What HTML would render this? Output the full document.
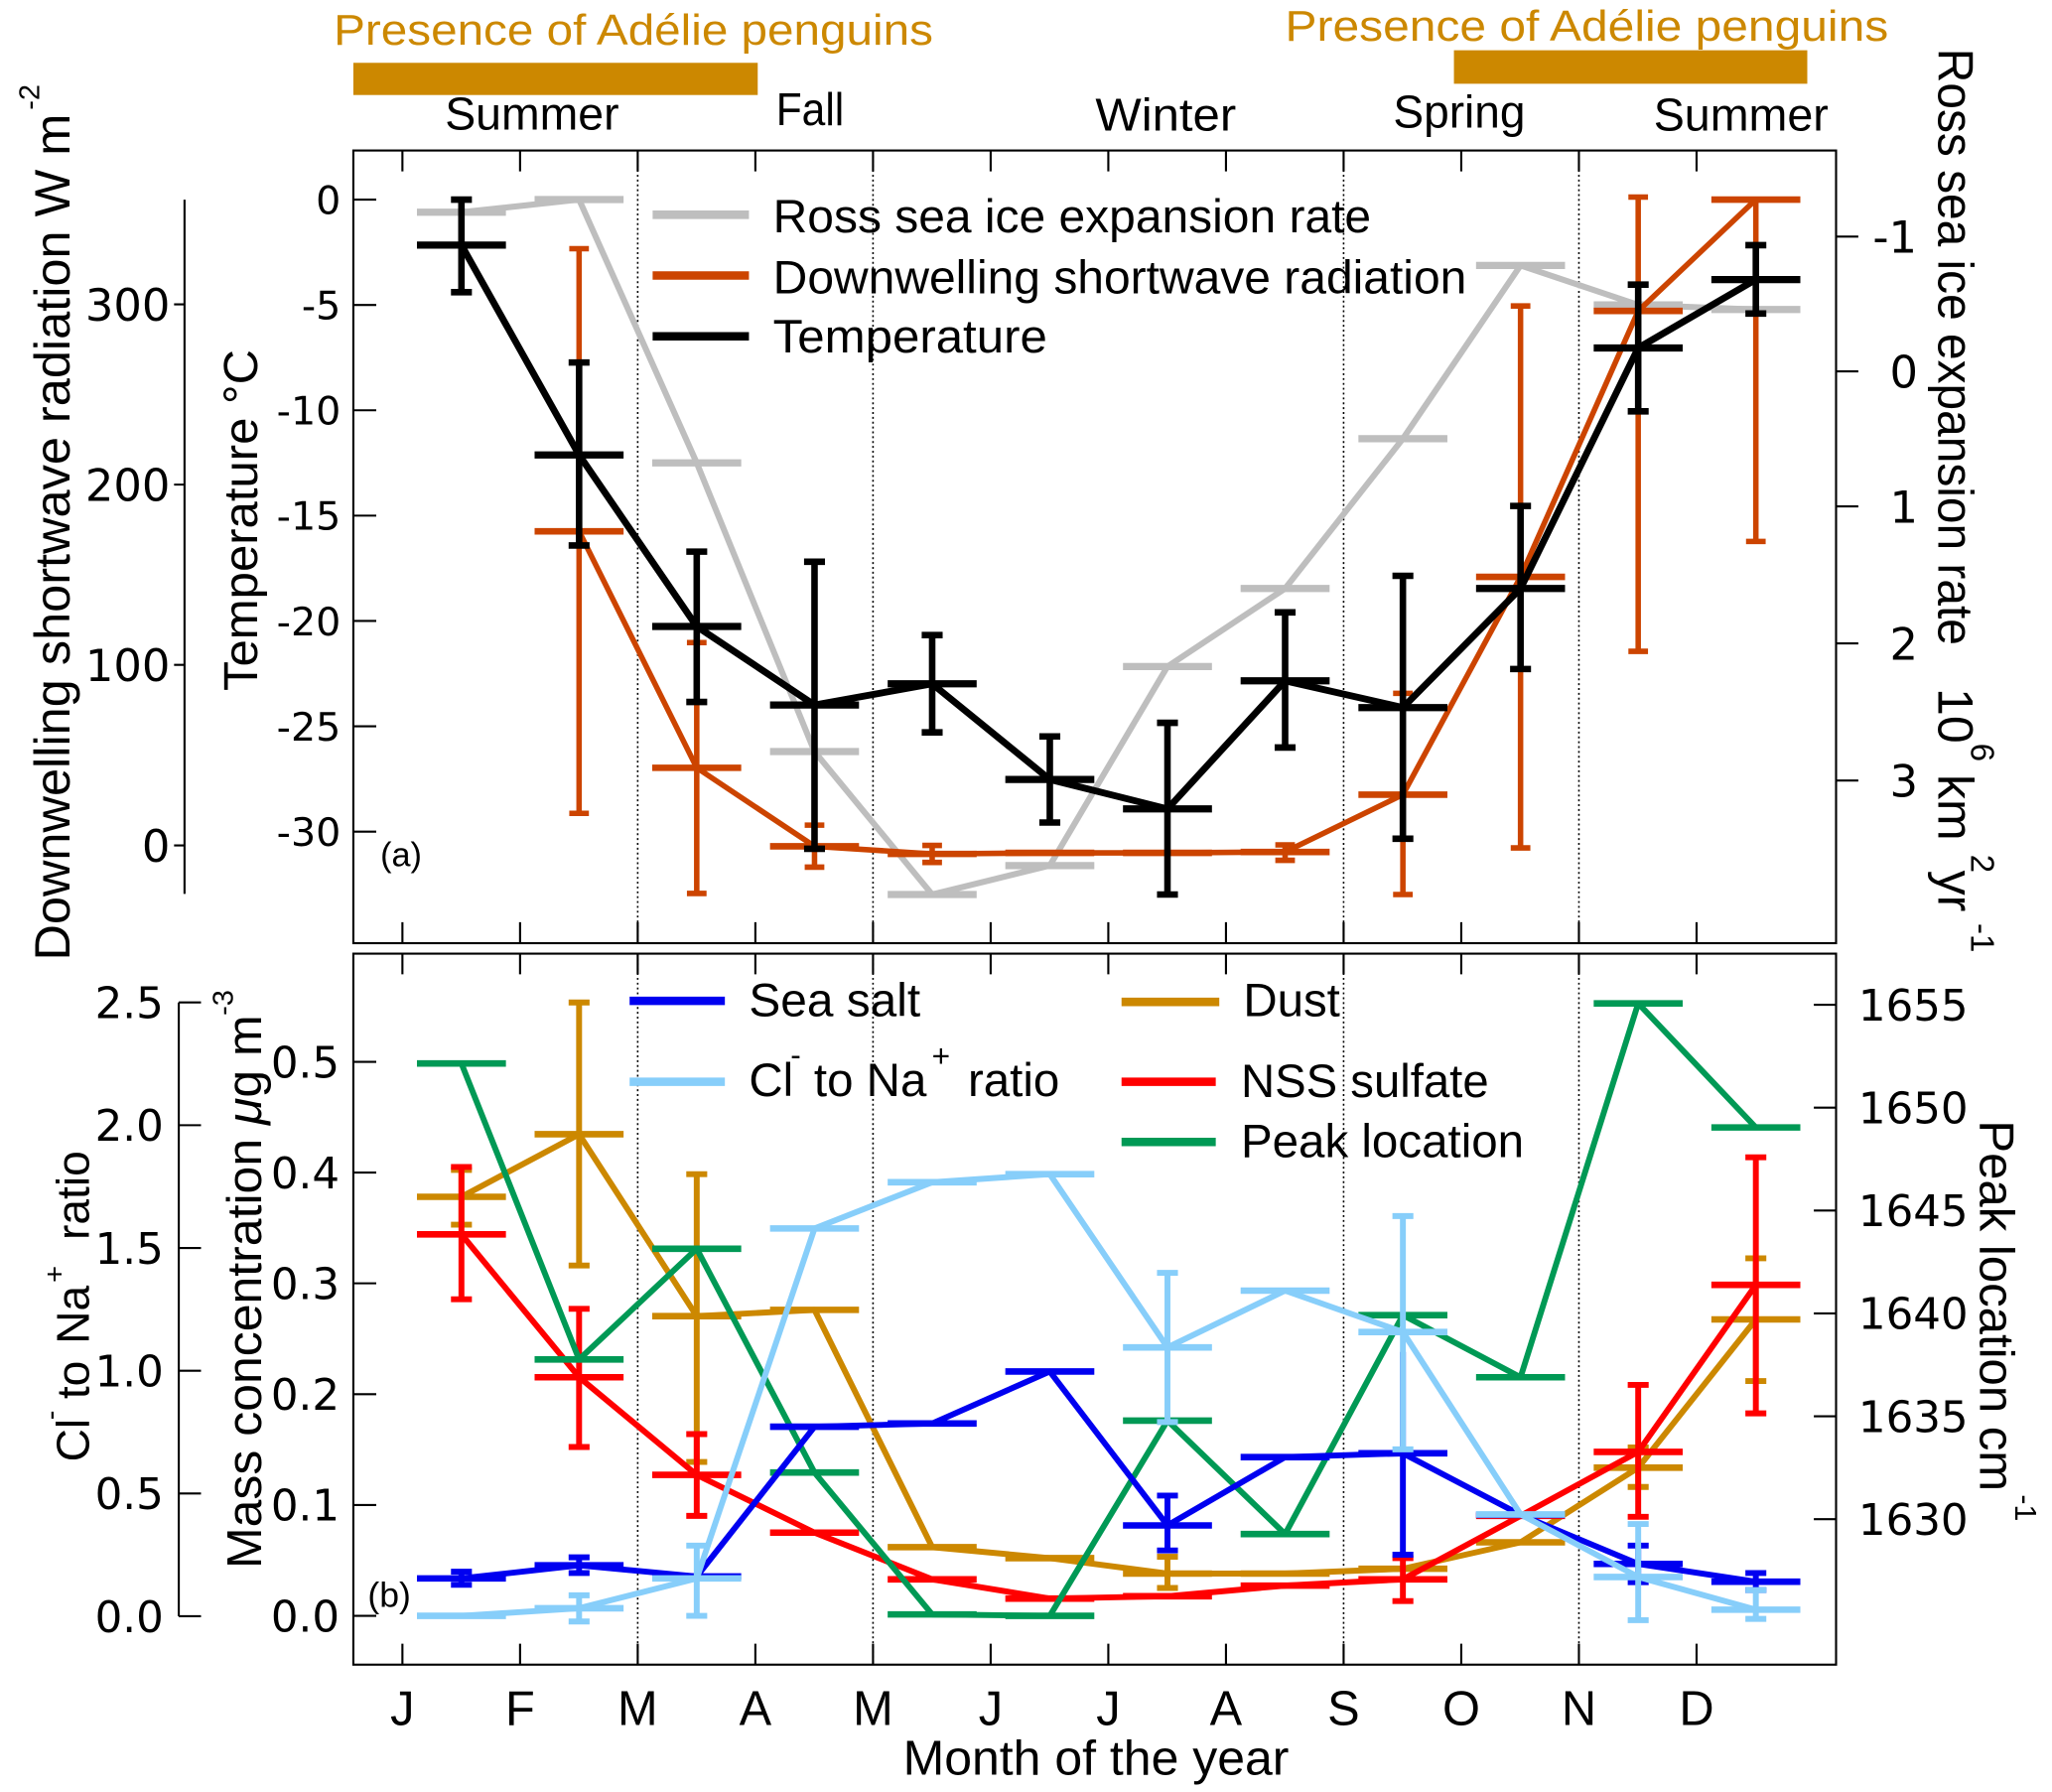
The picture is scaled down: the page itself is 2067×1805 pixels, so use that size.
<!DOCTYPE html>
<html>
<head>
<meta charset="utf-8">
<style>
html,body{margin:0;padding:0;background:#fff;}
svg{display:block;}
text{font-family:"Liberation Sans",Arial,sans-serif;fill:#000;}
.tk{font-family:"DejaVu Sans","Liberation Sans",sans-serif;}
</style>
</head>
<body>
<svg xmlns="http://www.w3.org/2000/svg" width="2067" height="1805" viewBox="0 0 1568 1369.3" preserveAspectRatio="none">
<rect x="0" y="0" width="1568" height="1369.3" fill="#fff"/>

<!-- Penguin presence -->
<text x="255" y="34" font-size="33" fill="#CC8800" style="fill:#CC8800" textLength="458" lengthAdjust="spacingAndGlyphs">Presence of Adélie penguins</text>
<text x="982" y="31" font-size="33" fill="#CC8800" style="fill:#CC8800" textLength="461" lengthAdjust="spacingAndGlyphs">Presence of Adélie penguins</text>
<rect x="270" y="48" width="309" height="24.6" fill="#CC8800"/>
<rect x="1111" y="38.4" width="270" height="25.6" fill="#CC8800"/>

<!-- Seasons -->
<text x="340" y="99" font-size="35" textLength="133" lengthAdjust="spacingAndGlyphs">Summer</text>
<text x="593" y="95.6" font-size="35" textLength="52" lengthAdjust="spacingAndGlyphs">Fall</text>
<text x="837" y="99.9" font-size="35" textLength="107.6" lengthAdjust="spacingAndGlyphs">Winter</text>
<text x="1064.6" y="97.4" font-size="35" textLength="101" lengthAdjust="spacingAndGlyphs">Spring</text>
<text x="1263.6" y="99.9" font-size="35" textLength="133.6" lengthAdjust="spacingAndGlyphs">Summer</text>

<!-- Frames -->
<rect x="270" y="115" width="1133" height="605.7" fill="none" stroke="#000" stroke-width="1.6"/>
<rect x="270" y="728.7" width="1133" height="543.3" fill="none" stroke="#000" stroke-width="1.6"/>

<!-- Dotted month dividers -->
<path d="M487.3,115V720.7 M667.1,115V720.7 M1026.7,115V720.7 M1206.5,115V720.7 M487.3,728.7V1272 M667.1,728.7V1272 M1026.7,728.7V1272 M1206.5,728.7V1272" stroke="#000" stroke-width="1.2" stroke-dasharray="1.5,2.2" fill="none"/>

<!-- Month ticks -->
<path d="M307.5,115V131 M397.4,115V131 M487.3,115V131 M577.2,115V131 M667.1,115V131 M757,115V131 M846.9,115V131 M936.8,115V131 M1026.7,115V131 M1116.6,115V131 M1206.5,115V131 M1296.4,115V131
M307.5,720.7V704.7 M397.4,720.7V704.7 M487.3,720.7V704.7 M577.2,720.7V704.7 M667.1,720.7V704.7 M757,720.7V704.7 M846.9,720.7V704.7 M936.8,720.7V704.7 M1026.7,720.7V704.7 M1116.6,720.7V704.7 M1206.5,720.7V704.7 M1296.4,720.7V704.7
M307.5,728.7V744.5 M397.4,728.7V744.5 M487.3,728.7V744.5 M577.2,728.7V744.5 M667.1,728.7V744.5 M757,728.7V744.5 M846.9,728.7V744.5 M936.8,728.7V744.5 M1026.7,728.7V744.5 M1116.6,728.7V744.5 M1206.5,728.7V744.5 M1296.4,728.7V744.5
M307.5,1272V1256 M397.4,1272V1256 M487.3,1272V1256 M577.2,1272V1256 M667.1,1272V1256 M757,1272V1256 M846.9,1272V1256 M936.8,1272V1256 M1026.7,1272V1256 M1116.6,1272V1256 M1206.5,1272V1256 M1296.4,1272V1256" stroke="#000" stroke-width="1.6" fill="none"/>

<!-- Y-axis ticks -->
<path d="M270,152.5h17.5 M270,233h17.5 M270,313.5h17.5 M270,394h17.5 M270,474.5h17.5 M270,555h17.5 M270,635.5h17.5
M1403,180.8h17 M1403,283.8h17 M1403,386.9h17 M1403,491.6h17 M1403,596.4h17
M270,811.4h17.5 M270,896h17.5 M270,980.6h17.5 M270,1065.3h17.5 M270,1150h17.5 M270,1234.7h17.5
M1403,767.8h-17 M1403,846.4h-17 M1403,925h-17 M1403,1003.6h-17 M1403,1082.2h-17 M1403,1160.8h-17
M141,152.6V683 M141,232.6h-8 M141,370.3h-8 M141,508h-8 M141,646h-8
M136.6,766V1235 M136.6,766h17 M136.6,859.8h17 M136.6,953.6h17 M136.6,1047.4h17 M136.6,1141.2h17 M136.6,1235h17" stroke="#000" stroke-width="1.6" fill="none"/>

<!-- Tick labels -->
<g class="tk" font-size="30" text-anchor="end">
<text class="tk" x="260.4" y="163.4">0</text>
<text class="tk" x="260.4" y="243.9">-5</text>
<text class="tk" x="260.4" y="324.4">-10</text>
<text class="tk" x="260.4" y="404.9">-15</text>
<text class="tk" x="260.4" y="485.4">-20</text>
<text class="tk" x="260.4" y="565.9">-25</text>
<text class="tk" x="260.4" y="646.4">-30</text>
</g>
<g font-size="34" text-anchor="end">
<text class="tk" x="130" y="245">300</text>
<text class="tk" x="130" y="382.7">200</text>
<text class="tk" x="130" y="520.4">100</text>
<text class="tk" x="130" y="658.4">0</text>
</g>
<g font-size="34">
<text class="tk" x="1431" y="193.2">-1</text>
<text class="tk" x="1444" y="296.2">0</text>
<text class="tk" x="1444" y="399.3">1</text>
<text class="tk" x="1444" y="504">2</text>
<text class="tk" x="1444" y="608.8">3</text>
</g>
<g font-size="33">
<text class="tk" x="1420" y="779.8">1655</text>
<text class="tk" x="1420" y="858.4">1650</text>
<text class="tk" x="1420" y="937">1645</text>
<text class="tk" x="1420" y="1015.6">1640</text>
<text class="tk" x="1420" y="1094.2">1635</text>
<text class="tk" x="1420" y="1172.8">1630</text>
</g>
<g font-size="33" text-anchor="end">
<text class="tk" x="125" y="778">2.5</text>
<text class="tk" x="125" y="871.8">2.0</text>
<text class="tk" x="125" y="965.6">1.5</text>
<text class="tk" x="125" y="1059.4">1.0</text>
<text class="tk" x="125" y="1153.2">0.5</text>
<text class="tk" x="125" y="1247">0.0</text>
<text class="tk" x="259.5" y="823.4">0.5</text>
<text class="tk" x="259.5" y="908">0.4</text>
<text class="tk" x="259.5" y="992.6">0.3</text>
<text class="tk" x="259.5" y="1077.3">0.2</text>
<text class="tk" x="259.5" y="1162">0.1</text>
<text class="tk" x="259.5" y="1246.7">0.0</text>
</g>

<!-- Month labels -->
<g font-size="37" text-anchor="middle">
<text x="307.5" y="1318">J</text>
<text x="397.4" y="1318">F</text>
<text x="487.3" y="1318">M</text>
<text x="577.2" y="1318">A</text>
<text x="667.1" y="1318">M</text>
<text x="757" y="1318">J</text>
<text x="846.9" y="1318">J</text>
<text x="936.8" y="1318">A</text>
<text x="1026.7" y="1318">S</text>
<text x="1116.6" y="1318">O</text>
<text x="1206.5" y="1318">N</text>
<text x="1296.4" y="1318">D</text>
</g>
<text x="690" y="1356" font-size="37" textLength="295" lengthAdjust="spacingAndGlyphs">Month of the year</text>

<!-- Axis titles -->
<text transform="translate(53,734) rotate(-90)" font-size="38" textLength="647" lengthAdjust="spacingAndGlyphs">Downwelling shortwave radiation W m</text>
<text transform="translate(30,84) rotate(-90)" font-size="22">-2</text>
<text transform="translate(196.5,528) rotate(-90)" font-size="36.5" textLength="261" lengthAdjust="spacingAndGlyphs">Temperature °C</text>

<text transform="translate(68,1117) rotate(-90)" font-size="35"><tspan x="0" y="0">Cl</tspan><tspan x="32" y="-22" font-size="22">-</tspan><tspan x="48" y="0">to</tspan><tspan x="90" y="0">Na</tspan><tspan x="137" y="-19" font-size="22">+</tspan><tspan x="169.5" y="0">ratio</tspan></text>
<text transform="translate(199.6,1198.6) rotate(-90)" font-size="37.5" textLength="423" lengthAdjust="spacingAndGlyphs">Mass concentration <tspan font-style="italic">μ</tspan>g m</text>
<text transform="translate(178,776) rotate(-90)" font-size="22">-3</text>

<text transform="translate(1481,37) rotate(90)" font-size="38" textLength="456" lengthAdjust="spacingAndGlyphs">Ross sea ice expansion rate</text>
<text transform="translate(1481,525.7) rotate(90)" font-size="38">10</text>
<text transform="translate(1506,568) rotate(90)" font-size="25">6</text>
<text transform="translate(1481,591.7) rotate(90)" font-size="38">km</text>
<text transform="translate(1506,653) rotate(90)" font-size="25">2</text>
<text transform="translate(1481,665) rotate(90)" font-size="38">yr</text>
<text transform="translate(1506,705.5) rotate(90)" font-size="25">-1</text>

<text transform="translate(1513,856) rotate(90)" font-size="37" textLength="283.6" lengthAdjust="spacingAndGlyphs">Peak location cm</text>
<text transform="translate(1540,1142) rotate(90)" font-size="23">-1</text>

<!-- Panel labels -->
<text x="290.6" y="662" font-size="26">(a)</text>
<text x="281" y="1228" font-size="27">(b)</text>

<!-- ===== Top panel data ===== -->
<g fill="none" stroke-linejoin="round">
<polyline points="352.6,162.2 442.5,152.5 532.4,353.7 622.4,574.3 712.3,683.5 802.2,661.4 892.1,509.3 982,449.7 1072,335.2 1161.9,202.8 1251.8,233 1341.7,236.5" stroke="#BEBEBE" stroke-width="4.6"/>
<path d="M318.6,162.2h68 M408.5,152.5h68 M498.4,353.7h68 M588.4,574.3h68 M678.3,683.5h68 M768.2,661.4h68 M858.1,509.3h68 M948,449.7h68 M1038,335.2h68 M1127.9,202.8h68 M1217.8,233h68 M1307.7,236.5h68" stroke="#BEBEBE" stroke-width="5.5"/>

<polyline points="442.5,406 532.4,586.7 622.4,646.7 712.3,652.5 802.2,651.7 892.1,651.7 982,651 1072,607.2 1161.9,440.8 1251.8,237.6 1341.7,152.5" stroke="#CC4400" stroke-width="4.2"/>
<path d="M408.5,406h68 M498.4,586.7h68 M588.4,646.7h68 M678.3,652.5h68 M768.2,651.7h68 M858.1,651.7h68 M948,651h68 M1038,607.2h68 M1127.9,440.8h68 M1217.8,237.6h68 M1307.7,152.5h68" stroke="#CC4400" stroke-width="5"/>
<path d="M442.5,190V621.5 M532.4,491V682.7 M622.4,630.5V662.6 M712.3,646V659 M982,645.6V657.4 M1072,529.8V683.5 M1161.9,233.8V647.9 M1251.8,150.6V497.7 M1341.7,152.5V413.7
M435,190h15 M435,621.5h15 M524.9,491h15 M524.9,682.7h15 M614.9,630.5h15 M614.9,662.6h15 M704.8,646h15 M704.8,659h15 M974.5,645.6h15 M974.5,657.4h15 M1064.5,529.8h15 M1064.5,683.5h15 M1154.4,233.8h15 M1154.4,647.9h15 M1244.3,150.6h15 M1244.3,497.7h15 M1334.2,152.5h15 M1334.2,413.7h15" stroke="#CC4400" stroke-width="4.2"/>

<polyline points="352.6,187.3 442.5,347.6 532.4,478.7 622.4,538.7 712.3,522.5 802.2,595.6 892.1,618.1 982,520.2 1072,540.7 1161.9,449.7 1251.8,265.9 1341.7,213.6" stroke="#000" stroke-width="5.2"/>
<path d="M318.6,187.3h68 M408.5,347.6h68 M498.4,478.7h68 M588.4,538.7h68 M678.3,522.5h68 M768.2,595.6h68 M858.1,618.1h68 M948,520.2h68 M1038,540.7h68 M1127.9,449.7h68 M1217.8,265.9h68 M1307.7,213.6h68" stroke="#000" stroke-width="5.5"/>
<path d="M352.6,152.5V223.3 M442.5,277V416.8 M532.4,421.5V536.4 M622.4,429.2V648.6 M712.3,485.3V559.6 M802.2,562.7V628.5 M892.1,552.3V683.5 M982,467.9V571.2 M1072,440V640.9 M1161.9,386.6V511.2 M1251.8,217.5V314.3 M1341.7,187.3V239.6
M344.6,152.5h16 M344.6,223.3h16 M434.5,277h16 M434.5,416.8h16 M524.4,421.5h16 M524.4,536.4h16 M614.4,429.2h16 M614.4,648.6h16 M704.3,485.3h16 M704.3,559.6h16 M794.2,562.7h16 M794.2,628.5h16 M884.1,552.3h16 M884.1,683.5h16 M974,467.9h16 M974,571.2h16 M1064,440h16 M1064,640.9h16 M1153.9,386.6h16 M1153.9,511.2h16 M1243.8,217.5h16 M1243.8,314.3h16 M1333.7,187.3h16 M1333.7,239.6h16" stroke="#000" stroke-width="5"/>
</g>

<!-- Top legend -->
<path d="M498.7,164.1H572.3" stroke="#BEBEBE" stroke-width="6.5"/>
<path d="M498.7,210.5H572.3" stroke="#CC4400" stroke-width="6.5"/>
<path d="M498.7,257H572.3" stroke="#000" stroke-width="6.5"/>
<text x="590.7" y="177.7" font-size="36" textLength="457" lengthAdjust="spacingAndGlyphs">Ross sea ice expansion rate</text>
<text x="590.7" y="224.1" font-size="36" textLength="530" lengthAdjust="spacingAndGlyphs">Downwelling shortwave radiation</text>
<text x="590.7" y="269.4" font-size="36" textLength="209.5" lengthAdjust="spacingAndGlyphs">Temperature</text>

<!-- ===== Bottom panel data ===== -->
<g fill="none" stroke-linejoin="round">
<polyline points="352.6,914.5 442.5,866.7 532.4,1005.7 622.4,1000.9 712.3,1182.2 802.2,1190.6 892.1,1202.4 982,1202.4 1072,1198.7 1161.9,1178.5 1251.8,1121.5 1341.7,1008.2" stroke="#CC8800" stroke-width="4.5"/>
<path d="M318.6,914.5h68 M408.5,866.7h68 M498.4,1005.7h68 M588.4,1000.9h68 M678.3,1182.2h68 M768.2,1190.6h68 M858.1,1202.4h68 M948,1202.4h68 M1038,1198.7h68 M1127.9,1178.5h68 M1217.8,1121.5h68 M1307.7,1008.2h68" stroke="#CC8800" stroke-width="5"/>
<path d="M352.6,894V935.8 M442.5,766V967 M532.4,897.2V1117.1 M892.1,1189.5V1213.4 M1251.8,1106V1136.2 M1341.7,961.5V1055.3
M344.6,894h16 M344.6,935.8h16 M434.5,766h16 M434.5,967h16 M524.4,897.2h16 M524.4,1117.1h16 M884.1,1189.5h16 M884.1,1213.4h16 M1243.8,1106h16 M1243.8,1136.2h16 M1333.7,961.5h16 M1333.7,1055.3h16" stroke="#CC8800" stroke-width="4.5"/>

<polyline points="352.6,943.2 442.5,1052.4 532.4,1127 622.4,1171.1 712.3,1206.8 802.2,1221.5 892.1,1219.7 982,1211.6 1072,1206.8 1161.9,1158.3 1251.8,1109.4 1341.7,981.8" stroke="#FF0000" stroke-width="4.5"/>
<path d="M318.6,943.2h68 M408.5,1052.4h68 M498.4,1127h68 M588.4,1171.1h68 M678.3,1206.8h68 M768.2,1221.5h68 M858.1,1219.7h68 M948,1211.6h68 M1038,1206.8h68 M1127.9,1158.3h68 M1217.8,1109.4h68 M1307.7,981.8h68" stroke="#FF0000" stroke-width="5"/>
<path d="M352.6,891.7V992.8 M442.5,1000.1V1105.7 M532.4,1095.8V1158.3 M1072,1190.6V1223.4 M1251.8,1058.2V1159 M1341.7,884.3V1080
M344.6,891.7h16 M344.6,992.8h16 M434.5,1000.1h16 M434.5,1105.7h16 M524.4,1095.8h16 M524.4,1158.3h16 M1064,1190.6h16 M1064,1223.4h16 M1243.8,1058.2h16 M1243.8,1159h16 M1333.7,884.3h16 M1333.7,1080h16" stroke="#FF0000" stroke-width="4.5"/>

<polyline points="352.6,812.6 442.5,1038.8 532.4,954.2 622.4,1125.2 712.3,1233.6 802.2,1234.7 892.1,1085.5 982,1172.2 1072,1004.9 1161.9,1052.4 1251.8,766.7 1341.7,861.5" stroke="#009955" stroke-width="4.5"/>
<path d="M318.6,812.6h68 M408.5,1038.8h68 M498.4,954.2h68 M588.4,1125.2h68 M678.3,1233.6h68 M768.2,1234.7h68 M858.1,1085.5h68 M948,1172.2h68 M1038,1004.9h68 M1127.9,1052.4h68 M1217.8,766.7h68 M1307.7,861.5h68" stroke="#009955" stroke-width="5"/>

<polyline points="352.6,1206.1 442.5,1196.1 532.4,1204.6 622.4,1090.2 712.3,1087.7 802.2,1048 892.1,1165.6 982,1113.4 1072,1110.5 1161.9,1157.5 1251.8,1195 1341.7,1208.6" stroke="#0000F0" stroke-width="4.5"/>
<path d="M318.6,1206.1h68 M408.5,1196.1h68 M498.4,1204.6h68 M588.4,1090.2h68 M678.3,1087.7h68 M768.2,1048h68 M858.1,1165.6h68 M948,1113.4h68 M1038,1110.5h68 M1127.9,1157.5h68 M1217.8,1195h68 M1307.7,1208.6h68" stroke="#0000F0" stroke-width="5"/>
<path d="M352.6,1201V1211 M442.5,1190V1202 M892.1,1142.8V1184.7 M1072,1033V1188 M1251.8,1181V1209 M1341.7,1202V1215
M344.6,1201h16 M344.6,1211h16 M434.5,1190h16 M434.5,1202h16 M884.1,1142.8h16 M884.1,1184.7h16 M1064,1188h16 M1243.8,1181h16 M1243.8,1209h16 M1333.7,1202h16 M1333.7,1215h16" stroke="#0000F0" stroke-width="4.5"/>

<polyline points="352.6,1234.7 442.5,1228.9 532.4,1206.1 622.4,938.7 712.3,903.4 802.2,897.2 892.1,1029.6 982,986.2 1072,1017.8 1161.9,1157.2 1251.8,1205 1341.7,1230" stroke="#87CEFA" stroke-width="4.5"/>
<path d="M318.6,1234.7h68 M408.5,1228.9h68 M498.4,1206.1h68 M588.4,938.7h68 M678.3,903.4h68 M768.2,897.2h68 M858.1,1029.6h68 M948,986.2h68 M1038,1017.8h68 M1127.9,1157.2h68 M1217.8,1205h68 M1307.7,1230h68" stroke="#87CEFA" stroke-width="5"/>
<path d="M442.5,1219V1239 M532.4,1181V1234.7 M892.1,972.6V1086.6 M1072,929.2V1107.5 M1251.8,1164.5V1238 M1341.7,1215V1237
M434.5,1219h16 M434.5,1239h16 M524.4,1181h16 M524.4,1234.7h16 M884.1,972.6h16 M884.1,1086.6h16 M1064,929.2h16 M1064,1107.5h16 M1243.8,1164.5h16 M1243.8,1238h16 M1333.7,1215h16 M1333.7,1237h16" stroke="#87CEFA" stroke-width="4.5"/>
</g>

<!-- Bottom legend -->
<path d="M481.1,764.8H553.9" stroke="#0000F0" stroke-width="6.5"/>
<path d="M481.1,826.6H553.9" stroke="#87CEFA" stroke-width="6.5"/>
<path d="M857,765.6H931.7" stroke="#CC8800" stroke-width="6.5"/>
<path d="M857,826.6H929" stroke="#FF0000" stroke-width="6.5"/>
<path d="M857,872.6H929" stroke="#009955" stroke-width="6.5"/>
<text x="572.3" y="776.6" font-size="36" textLength="131" lengthAdjust="spacingAndGlyphs">Sea salt</text>
<text font-size="36"><tspan x="572.3" y="837.6">Cl</tspan><tspan x="604" y="814" font-size="24">-</tspan><tspan x="622" y="837.6">to Na</tspan><tspan x="712" y="815" font-size="24">+</tspan><tspan x="739.6" y="837.6">ratio</tspan></text>
<text x="950" y="776.6" font-size="36">Dust</text>
<text x="948.2" y="838.4" font-size="36" textLength="189.4" lengthAdjust="spacingAndGlyphs">NSS sulfate</text>
<text x="948.2" y="884.3" font-size="36" textLength="216.3" lengthAdjust="spacingAndGlyphs">Peak location</text>
</svg>
</body>
</html>
